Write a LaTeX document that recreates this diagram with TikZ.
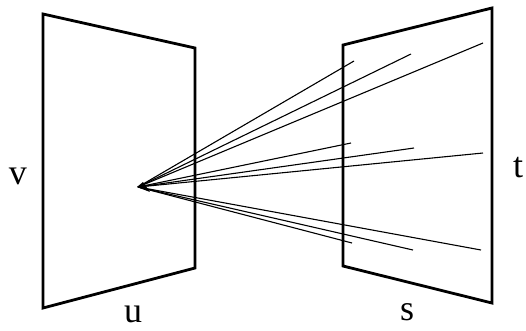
\documentclass[tikz,border=0pt]{standalone}
\usepackage{fontspec}
\setmainfont{Liberation Serif}
\tikzset{
  plane/.style={draw=black,line width=2.8pt,line join=miter},
  ray/.style={draw=black,line width=1.1pt},
  lab/.style={font=\fontsize{36}{36}\selectfont,inner sep=0pt,text=black}
}
\begin{document}
\begin{tikzpicture}[x=1pt,y=-1pt]
\useasboundingbox (0,0) rectangle (526,330);
\draw[plane] (43,14) -- (195,48) -- (195,268) -- (43,308) -- cycle;
\draw[plane] (343,45) -- (492,8) -- (492,303) -- (343,266) -- cycle;
\coordinate (o) at (138,187);
\coordinate (a1) at (354,61);
\coordinate (a2) at (411,54);
\coordinate (a3) at (483,43);
\coordinate (b1) at (351,143);
\coordinate (b2) at (414,148);
\coordinate (b3) at (483,153);
\coordinate (c1) at (352,243);
\coordinate (c2) at (413,250);
\coordinate (c3) at (481,250);
\foreach \e in {a1,a2,a3,b1,b2,b3,c1,c2,c3} \draw[ray] (o) -- (\e);
\fill (137,187) -- (143,182) -- (150,192) -- cycle;
\node[lab] (v) at (18,176) {v};
\node[lab] (u) at (133,314) {u};
\node[lab] (s) at (407,312) {s};
\node[lab] (t) at (518,168) {t};
\end{tikzpicture}
\end{document}
